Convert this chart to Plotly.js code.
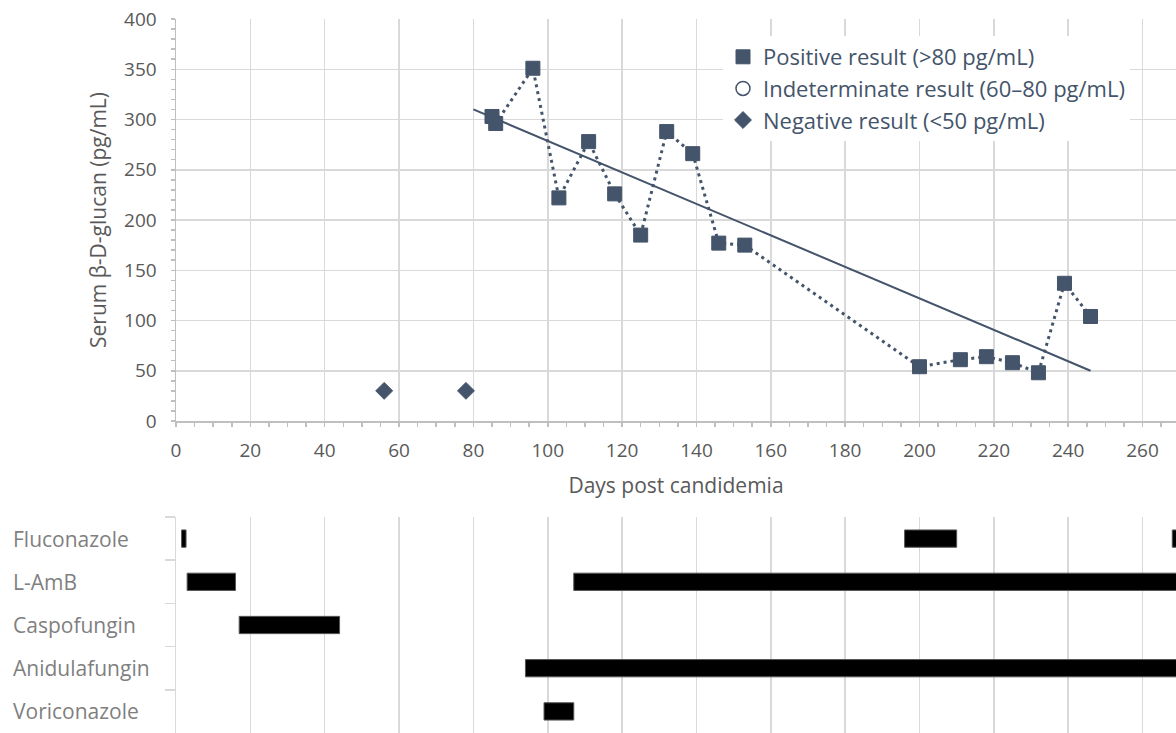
<!DOCTYPE html>
<html>
<head>
<meta charset="utf-8">
<script src="https://cdn.plot.ly/plotly-3.0.1.min.js"></script>
<style>
  html, body { margin: 0; padding: 0; background: #ffffff; }
  #chart { width: 1176px; height: 733px; }
</style>
</head>
<body>
<div id="chart"></div>
<script>
// ---------- data ----------
const posDays = [85, 86, 96, 103, 111, 118, 125, 132, 139, 146, 153, 200, 211, 218, 225, 232, 239, 246];
const posBdg  = [303, 296, 351, 222, 278, 226, 185, 288, 266, 177, 175, 54, 61, 64, 58, 48, 137, 104];
const negDays = [56, 78];
const negBdg  = [30, 30];
// linear trendline of the positive results, as drawn in the reference (end points)
const trendDays = [80, 246];
const trendBdg  = [310, 50];

const drugs = ['Fluconazole', 'L-AmB', 'Caspofungin', 'Anidulafungin', 'Voriconazole'];
const courseDrug  = ['Fluconazole', 'Fluconazole', 'Fluconazole', 'L-AmB', 'L-AmB', 'Caspofungin', 'Anidulafungin', 'Voriconazole'];
const courseStart = [1.5, 196, 268, 3, 107, 17, 94, 99];
const courseEnd   = [2.7, 210, 285, 16, 285, 44, 285, 107];

const legendNames = ['Positive result (>80 pg/mL)', 'Indeterminate result (60\u201380 pg/mL)', 'Negative result (<50 pg/mL)'];

const FONT = '"Open Sans", Lato, sans-serif';
const NAVY = '#44546A';
const GRID = '#D9D9D9';
const AXIS = '#BFBFBF';
const TXT = '#595959';

const traces = [
  { x: trendDays, y: trendBdg, xaxis: 'x', yaxis: 'y', mode: 'lines', line: { color: NAVY, width: 2 }, showlegend: false, hoverinfo: 'skip' },
  { x: posDays, y: posBdg, xaxis: 'x', yaxis: 'y', mode: 'lines', line: { color: NAVY, width: 3, dash: '3px,4px' }, showlegend: false, hoverinfo: 'skip' },
  { x: posDays, y: posBdg, xaxis: 'x', yaxis: 'y', mode: 'markers', name: legendNames[0], legendgroup: 'a',
    marker: { symbol: 'square', size: 14, color: NAVY, line: { color: NAVY, width: 1 } } },
  { x: [null], y: [null], xaxis: 'x', yaxis: 'y', mode: 'markers', name: legendNames[1], legendgroup: 'b',
    marker: { symbol: 'circle-open', size: 14, color: NAVY, line: { color: NAVY, width: 1.5 } } },
  { x: negDays, y: negBdg, xaxis: 'x', yaxis: 'y', mode: 'markers', name: legendNames[2], legendgroup: 'c',
    marker: { symbol: 'diamond', size: 13, color: NAVY, line: { color: NAVY, width: 1 } } },
  { type: 'bar', orientation: 'h', xaxis: 'x2', yaxis: 'y2',
    y: courseDrug, base: courseStart, x: courseEnd.map((e, i) => e - courseStart[i]),
    width: 0.4, marker: { color: '#000000', line: { color: '#555555', width: 1 } },
    showlegend: false, hoverinfo: 'skip' }
];

const layout = {
  width: 1176, height: 733,
  margin: { l: 0, r: 0, t: 0, b: 0 },
  paper_bgcolor: '#ffffff', plot_bgcolor: 'rgba(0,0,0,0)',
  font: { family: FONT, color: TXT },
  showlegend: true,
  legend: {
    x: 723 / 1176, y: 1 - 36 / 733, xanchor: 'left', yanchor: 'top',
    bgcolor: '#ffffff', borderwidth: 0,
    font: { family: FONT, size: 22, color: NAVY },
    traceorder: 'grouped', tracegroupgap: 0, itemwidth: 30
  },
  xaxis: {
    domain: [176 / 1176, 1], range: [0, 269], anchor: 'y',
    dtick: 20, tick0: 0, showgrid: true, gridcolor: GRID, gridwidth: 1.5, zeroline: false,
    showline: true, linecolor: AXIS, linewidth: 1.5,
    ticks: 'outside', ticklen: 4, tickcolor: AXIS, tickwidth: 1.5,
    minor: { dtick: 5, ticks: 'outside', ticklen: 4, tickcolor: AXIS, showgrid: false },
    ticklabelstandoff: 8,
    tickfont: { family: FONT, size: 19, color: TXT },
    title: { text: 'Days post candidemia', font: { family: FONT, size: 21, color: TXT }, standoff: 16 }
  },
  yaxis: {
    domain: [1 - 421 / 733, 1 - 19 / 733], range: [0, 400], anchor: 'x',
    dtick: 50, showgrid: true, gridcolor: GRID, gridwidth: 1.5, zeroline: false,
    showline: true, linecolor: AXIS, linewidth: 1.5,
    ticks: 'outside', ticklen: 4, tickcolor: AXIS, tickwidth: 1.5,
    minor: { dtick: 10, ticks: 'outside', ticklen: 4, tickcolor: AXIS, showgrid: false },
    ticklabelstandoff: 10,
    tickfont: { family: FONT, size: 19, color: TXT },
    title: { text: 'Serum \u03b2-D-glucan (pg/mL)', font: { family: FONT, size: 21, color: TXT }, standoff: 12 }
  },
  xaxis2: {
    domain: [176 / 1176, 1], range: [0, 269], anchor: 'y2',
    dtick: 20, tick0: 0, showgrid: true, gridcolor: GRID, gridwidth: 1.5, zeroline: false,
    showline: false, showticklabels: false, ticks: ''
  },
  yaxis2: {
    domain: [0, 1 - 517 / 733], anchor: 'x2', type: 'category',
    categoryorder: 'array', categoryarray: drugs, range: [4.5, -0.5],
    showgrid: false, zeroline: false, showline: true, linecolor: GRID, linewidth: 1.5,
    ticks: 'outside', tickson: 'boundaries', ticklen: 10, tickcolor: GRID, tickwidth: 1.5,
    showticklabels: false
  },
  bargap: 0.6,
  annotations: drugs.map(d => ({
    xref: 'paper', yref: 'y2', x: 11 / 1176, y: d, xanchor: 'left', yanchor: 'middle',
    text: d, showarrow: false, font: { family: FONT, size: 21, color: '#7F7F7F' }
  }))
};

Plotly.newPlot('chart', traces, layout, { staticPlot: true, displayModeBar: false });
</script>
</body>
</html>
